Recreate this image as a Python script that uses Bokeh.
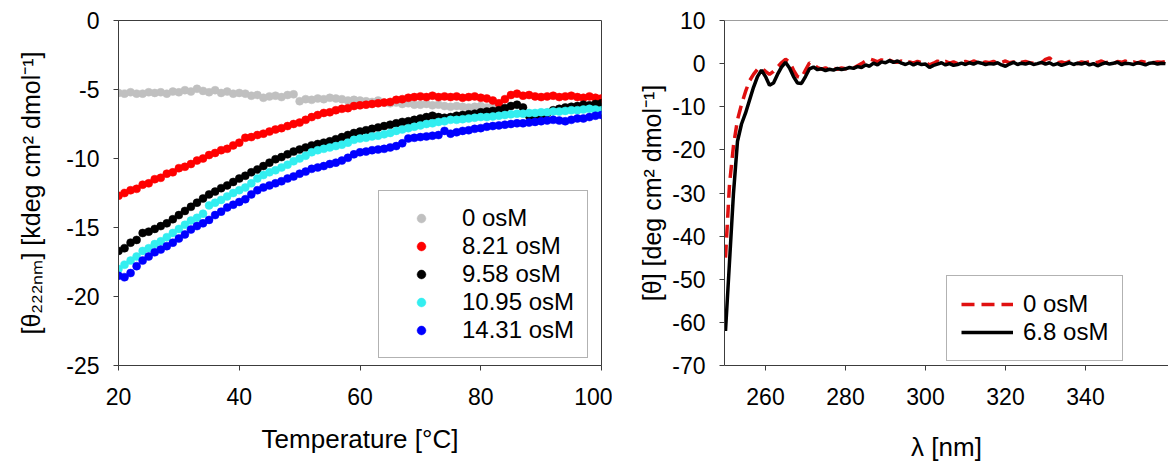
from bokeh.plotting import figure
from bokeh.layouts import row
from bokeh.models import FixedTicker, Range1d, Legend, LegendItem, Span
from bokeh.embed import file_html
from bokeh.resources import INLINE

# ---------------- Left panel: thermal melts at 222 nm ----------------
temperature = list(range(20, 101))
temp_gray = list(range(20, 85))

theta_0 = [-5.25, -5.3, -5.2, -5.3, -5.3, -5.2, -5.25, -5.2, -5.3, -5.15,
           -5.2, -5.05, -5.15, -4.95, -5.1, -5.2, -5.05, -5.25, -5.15, -5.3,
           -5.25, -5.3, -5.45, -5.4, -5.6, -5.5, -5.45, -5.55, -5.4, -5.35,
           -5.85, -5.7, -5.75, -5.65, -5.7, -5.6, -5.65, -5.7, -5.8, -5.75,
           -5.8, -5.85, -5.9, -5.8, -5.95, -6.0, -5.95, -6.05, -6.0, -6.1,
           -6.1, -6.05, -6.15, -6.1, -6.2, -6.25, -6.2, -6.25, -6.3, -6.25,
           -6.2, -6.3, -6.25, -6.3, -6.35]

theta_821 = [-12.7, -12.5, -12.3, -12.2, -11.9, -11.8, -11.5, -11.4, -11.1, -11.0,
             -10.7, -10.6, -10.4, -10.15, -10.0, -9.75, -9.6, -9.4, -9.3, -9.05,
             -8.85, -8.5, -8.45, -8.3, -8.2, -8.05, -7.9, -7.8, -7.65, -7.5,
             -7.4, -7.2, -7.0, -6.85, -6.7, -6.65, -6.5, -6.4, -6.35, -6.2,
             -6.15, -6.1, -6.05, -6.0, -5.95, -5.9, -5.75, -5.7, -5.6, -5.55,
             -5.5, -5.55, -5.45, -5.55, -5.5, -5.55, -5.5, -5.6, -5.55, -5.5,
             -5.6, -5.65, -5.8, -6.0, -5.7, -5.4, -5.3, -5.45, -5.4, -5.5,
             -5.55, -5.5, -5.45, -5.55, -5.5, -5.45, -5.55, -5.6, -5.5, -5.6,
             -5.65]

theta_958 = [-16.7, -16.5, -16.1, -15.9, -15.4, -15.3, -15.1, -14.9, -14.7, -14.4,
             -14.1, -13.8, -13.5, -13.2, -12.9, -12.6, -12.4, -12.15, -11.95, -11.7,
             -11.45, -11.25, -11.0, -10.8, -10.55, -10.3, -10.05, -9.9, -9.7, -9.5,
             -9.35, -9.2, -9.05, -8.95, -8.85, -8.75, -8.6, -8.45, -8.3, -8.15,
             -8.05, -7.95, -7.85, -7.75, -7.65, -7.55, -7.45, -7.35, -7.3, -7.2,
             -7.1, -7.0, -6.9, -7.0, -7.05, -7.0, -6.9, -6.85, -6.8, -6.75,
             -6.65, -6.6, -6.55, -6.5, -6.35, -6.2, -6.1, -6.3, -6.9, -7.1,
             -7.0, -6.7, -6.5, -6.4, -6.3, -6.25, -6.2, -6.1, -6.15, -6.05,
             -6.0]

theta_1095 = [-18.0, -17.7, -17.4, -17.1, -16.7, -16.5, -16.2, -16.0, -15.7, -15.4,
              -15.1, -14.8, -14.5, -14.3, -14.0, -13.4, -13.2, -13.0, -12.75, -12.5,
              -12.3, -12.1, -11.8, -11.45, -11.2, -11.0, -10.85, -10.65, -10.45, -10.2,
              -10.0, -9.8, -9.55, -9.4, -9.3, -9.2, -9.1, -9.0, -8.85, -8.65,
              -8.55, -8.5, -8.4, -8.35, -8.25, -8.15, -8.0, -7.9, -7.8, -7.7,
              -7.6, -7.5, -7.45, -7.35, -7.3, -7.2, -7.2, -7.15, -7.1, -7.05,
              -7.0, -7.0, -6.95, -6.9, -6.85, -6.8, -6.75, -6.75, -6.7, -6.7,
              -6.65, -6.65, -6.6, -6.6, -6.55, -6.5, -6.5, -6.45, -6.4, -6.45,
              -6.5]

theta_1431 = [-18.5, -18.6, -18.3, -17.8, -17.4, -17.1, -16.8, -16.6, -16.35, -16.1,
              -15.8, -15.5, -15.15, -14.9, -14.7, -14.45, -14.1, -13.85, -13.55, -13.35,
              -13.15, -12.95, -12.6, -12.3, -12.1, -11.95, -11.8, -11.65, -11.45, -11.3,
              -11.1, -10.95, -10.75, -10.65, -10.55, -10.4, -10.3, -10.15, -9.95, -9.7,
              -9.55, -9.5, -9.4, -9.35, -9.3, -9.2, -9.1, -8.9, -8.55, -8.5,
              -8.45, -8.4, -8.35, -8.3, -8.0, -8.2, -8.1, -8.0, -7.95, -7.85,
              -7.8, -7.7, -7.65, -7.6, -7.55, -7.5, -7.45, -7.45, -7.4, -7.35,
              -7.3, -7.25, -7.2, -7.25, -7.3, -7.2, -7.1, -7.1, -7.0, -6.9,
              -6.85]

melt_labels = ["0 osM", "8.21 osM", "9.58 osM", "10.95 osM", "14.31 osM"]
melt_colors = ["#c0c0c0", "#ff0000", "#000000", "#33eef0", "#0000ff"]
left_xticks = [20, 40, 60, 80, 100]
left_yticks = [0, -5, -10, -15, -20, -25]

# ---------------- Right panel: near-UV CD spectra ----------------
wavelength = list(range(250, 361))

cd_0 = [-45, -28, -19, -13, -9.5, -6.5, -4, -2.5, -1.3, -1.0,
        -1.8, -2.5, -1.8, -0.8, 0.2, 1.0, 0.4, -1.5, -3.0, -3.3,
        -1.5, 0.2, -0.3, -0.9, -1.3, -1.0, -1.4, -1.1, -1.3, -1.0,
        -1.2, -0.8, -1.0, -0.5, 0.0, 0.6, 1.1, 0.8, 0.4, 0.9,
        0.5, 0.8, 0.4, 0.3, 0.6, 0.2, 0.4, 0.1, 0.5, 0.2,
        0.3, -0.3, 0.1, 0.6, 0.2, 0.5, 0.1, 0.4, 0.0, 0.3,
        0.5, 0.2, 0.6, 0.3, 0.1, 0.4, 0.2, 0.5, 0.1, 0.3,
        0.6, 0.2, 0.4, 0.0, 0.3, 0.5, 0.2, 0.1, 0.4, 0.2,
        1.0, 1.3, 0.6, 0.2, 0.4, 0.1, 0.5, 0.3, 0.0, 0.4,
        0.2, 0.5, 0.1, 0.3, 0.6, 0.2, 0.4, 0.0, 0.5, 0.3,
        0.6, 0.2, 0.4, 0.1, 0.5, 0.3, 0.6, 0.2, 0.4, 0.3,
        0.5]

cd_68 = [-62, -46, -30, -18, -14, -11.5, -8.5, -5.5, -3.0, -1.5,
         -3.0, -5.0, -4.5, -2.5, -0.8, 0.3, -1.0, -3.0, -4.5, -4.6,
         -3.0, -1.2, -0.8, -1.4, -1.2, -1.6, -1.3, -1.5, -1.1, -1.4,
         -1.2, -0.9, -1.1, -0.7, -0.9, -0.3, -0.6, 0.1, -0.3, 0.4,
         0.2, 0.7, 0.3, 0.6, 0.1, -0.2, 0.2, -0.3, 0.1, -0.2,
         -0.1, -0.9, -0.4, -0.1, 0.2, -0.3, 0.0, -0.4, -0.2, 0.1,
         -0.2, 0.2, -0.1, 0.3, 0.1, -0.2, 0.0, -0.1, 0.2, -0.3,
         -0.6, -0.1, 0.3, -0.2, 0.1, -0.1, 0.2, -0.2, 0.0, 0.3,
         -0.1, 0.2, -0.3, 0.0, -0.4, -0.1, 0.2, -0.2, 0.1, -0.1,
         0.2, -0.3, 0.0, -0.5, -0.1, 0.2, -0.1, 0.1, 0.3, -0.2,
         0.1, 0.0, -0.2, 0.2, 0.0, -0.3, 0.1, 0.2, -0.1, 0.1,
         0.0]

cd_labels = ["0 osM", "6.8 osM"]
cd_colors = ["#e01010", "#000000"]
right_xticks = [260, 280, 300, 320, 340]
right_yticks = [10, 0, -10, -20, -30, -40, -50, -60, -70]

FONT = "Liberation Sans"
AXC = "#3c3c3c"


def style_axes(p, xticks, yticks):
    p.xgrid.visible = False
    p.ygrid.visible = False
    p.background_fill_color = "white"
    p.border_fill_color = "white"
    for ax in (p.xaxis[0], p.yaxis[0]):
        ax.major_label_text_font = FONT
        ax.major_label_text_font_size = "23px"
        ax.major_label_text_color = "black"
        ax.axis_label_text_font = FONT
        ax.axis_label_text_font_style = "normal"
        ax.axis_label_text_color = "black"
        ax.axis_line_color = AXC
        ax.axis_line_width = 1
        ax.major_tick_line_color = AXC
        ax.major_tick_in = 0
        ax.major_tick_out = 5
        ax.minor_tick_line_color = None
    p.xaxis[0].axis_label_text_font_size = "26px"
    p.yaxis[0].axis_label_text_font_size = "25px"
    p.xaxis[0].ticker = FixedTicker(ticks=xticks)
    p.yaxis[0].ticker = FixedTicker(ticks=yticks)
    # plain hyphen-minus labels, as in the original
    p.yaxis[0].major_label_overrides = {t: str(t) for t in yticks}
    p.xaxis[0].major_label_overrides = {t: str(t) for t in xticks}


# ---- left figure ----
p1 = figure(width=612, height=464, output_backend="svg", toolbar_location=None,
            x_range=Range1d(20, 100), y_range=Range1d(-25, 0),
            min_border_left=118, min_border_right=11, min_border_top=20,
            min_border_bottom=98)
style_axes(p1, left_xticks, left_yticks)
p1.outline_line_color = AXC
p1.outline_line_width = 1
p1.xaxis[0].axis_label = "Temperature [°C]"
p1.yaxis[0].axis_label = "[θ₂₂₂ₙₘ] [kdeg cm² dmol⁻¹]"
p1.xaxis[0].major_label_standoff = 17
p1.yaxis[0].major_label_standoff = 14
p1.xaxis[0].axis_label_standoff = 16
p1.yaxis[0].axis_label_standoff = 18

series = [(temp_gray, theta_0), (temperature, theta_821), (temperature, theta_958),
          (temperature, theta_1095), (temperature, theta_1431)]
items1 = []
for (xs, ys), lab, col in zip(series, melt_labels, melt_colors):
    r = p1.scatter(xs, ys, size=8, fill_color=col, line_color=col, line_width=0.5)
    items1.append(LegendItem(label=lab, renderers=[r]))

leg1 = Legend(items=items1, location=(260, 7), orientation="vertical",
              label_text_font=FONT, label_text_font_size="24px",
              label_text_color="black", glyph_width=58, glyph_height=22,
              label_height=22, spacing=0, padding=13, label_standoff=12,
              border_line_color="#666666", border_line_width=1,
              background_fill_color="white", background_fill_alpha=1.0,
              margin=0)
p1.add_layout(leg1, "center")

# ---- right figure ----
p2 = figure(width=556, height=464, output_backend="svg", toolbar_location=None,
            x_range=Range1d(249.75, 360.75), y_range=Range1d(-70, 10),
            min_border_left=112, min_border_right=0, min_border_top=20,
            min_border_bottom=98)
style_axes(p2, right_xticks, right_yticks)
p2.outline_line_color = None
p2.add_layout(Span(location=10, dimension="width", line_color=AXC, line_width=1))
p2.xaxis[0].axis_label = "λ [nm]"
p2.yaxis[0].axis_label = "[θ] [deg cm² dmol⁻¹]"
p2.xaxis[0].major_label_standoff = 17
p2.yaxis[0].major_label_standoff = 14
p2.xaxis[0].axis_label_standoff = 24
p2.yaxis[0].axis_label_standoff = 3

r_red = p2.line(wavelength, cd_0, line_color=cd_colors[0], line_width=3.5,
                line_dash="13 7")
r_blk = p2.line(wavelength, cd_68, line_color=cd_colors[1], line_width=3.5)
leg2 = Legend(items=[LegendItem(label=cd_labels[0], renderers=[r_red]),
                     LegendItem(label=cd_labels[1], renderers=[r_blk])],
              location=(222, 4), orientation="vertical",
              label_text_font=FONT, label_text_font_size="24px",
              label_text_color="black", glyph_width=52, glyph_height=22,
              label_height=22, spacing=0, padding=14, label_standoff=10,
              border_line_color="#666666", border_line_width=1,
              background_fill_color="white", background_fill_alpha=1.0,
              margin=0)
p2.add_layout(leg2, "center")

layout = row(p1, p2)
open("out.html", "w").write(file_html(layout, INLINE))
